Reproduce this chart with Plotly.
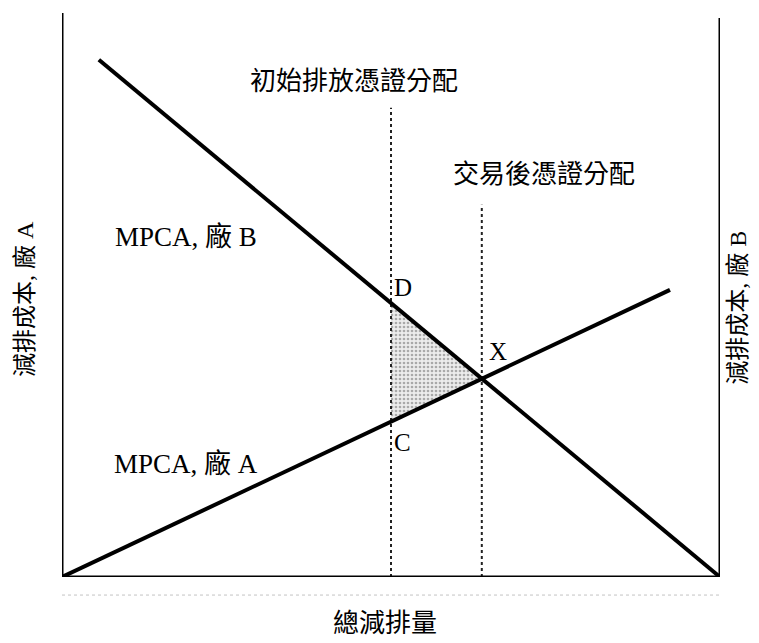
import plotly.graph_objects as go

# MPCA curves (axis units 0-10)
mpca_b_x = [0.56, 10.0]
mpca_b_y = [9.17, 0.0]
mpca_a_x = [0.0, 9.24]
mpca_a_y = [0.0, 5.09]

# permit allocations (vertical dotted lines)
alloc_x = [5.0, 6.38]
alloc_top = [8.32, 6.6]

# shaded gain triangle D - X - C
tri_x = [5.0, 6.38, 5.0, 5.0]
tri_y = [4.86, 3.52, 2.75, 4.86]

# text labels
labels = ["初始排放憑證分配", "交易後憑證分配", "MPCA, 廠 B", "MPCA, 廠 A", "D", "C", "X"]
label_x = [4.44, 7.33, 1.89, 1.88, 5.18, 5.17, 6.63]
label_y = [8.78, 7.13, 6.03, 2.0, 5.14, 2.38, 3.99]
label_size = [26, 26, 27, 27, 25, 25, 25]

FONT = "Liberation Serif, Noto Sans CJK TC, serif"

fig = go.Figure()

# shaded area
fig.add_trace(go.Scatter(
    x=tri_x, y=tri_y, mode="lines", fill="toself",
    line=dict(width=0),
    fillcolor="rgba(0,0,0,0)",
    fillpattern=dict(shape=".", fgcolor="#666666", bgcolor="#ececec",
                     size=4, solidity=0.35),
    hoverinfo="skip", showlegend=False
))

# dotted allocation lines
for ax, top in zip(alloc_x, alloc_top):
    fig.add_trace(go.Scatter(
        x=[ax, ax], y=[0, top], mode="lines",
        line=dict(color="#222222", width=2, dash="dot"),
        hoverinfo="skip", showlegend=False
    ))

# MPCA lines
fig.add_trace(go.Scatter(
    x=mpca_b_x, y=mpca_b_y, mode="lines",
    line=dict(color="black", width=4), name="MPCA B", showlegend=False
))
fig.add_trace(go.Scatter(
    x=mpca_a_x, y=mpca_a_y, mode="lines",
    line=dict(color="black", width=4), name="MPCA A", showlegend=False
))

# axes frame (left, right, bottom)
fig.add_shape(type="line", x0=0, x1=0, y0=0, y1=10, xref="x", yref="y",
              line=dict(color="black", width=3))
fig.add_shape(type="line", x0=10, x1=10, y0=0, y1=9.91, xref="x", yref="y",
              line=dict(color="black", width=3))
fig.add_shape(type="line", x0=0, x1=10, y0=0, y1=0, xref="x", yref="y",
              line=dict(color="black", width=3))
# faint scan line under the axis
fig.add_shape(type="line", x0=0, x1=1, y0=-0.032, y1=-0.032, xref="paper", yref="paper",
              line=dict(color="#c4c4c4", width=1, dash="dot"))

for t, lx, ly, sz in zip(labels, label_x, label_y, label_size):
    fig.add_annotation(x=lx, y=ly, text=t, showarrow=False,
                       font=dict(family=FONT, size=sz, color="black"))

# axis titles (paper coords so they are not hidden outside the range)
fig.add_annotation(x=-0.056, y=0.493, xref="paper", yref="paper",
                   xanchor="center", yanchor="middle",
                   text="減排成本, 廠 A", textangle=-90, showarrow=False,
                   font=dict(family=FONT, size=24, color="black"))
fig.add_annotation(x=1.027, y=0.477, xref="paper", yref="paper",
                   xanchor="center", yanchor="middle",
                   text="減排成本, 廠 B", textangle=-90, showarrow=False,
                   font=dict(family=FONT, size=24, color="black"))
fig.add_annotation(x=0.491, y=-0.082, xref="paper", yref="paper",
                   xanchor="center", yanchor="middle",
                   text="總減排量", showarrow=False,
                   font=dict(family=FONT, size=26, color="black"))

fig.update_xaxes(range=[0, 10], visible=False, showgrid=False, zeroline=False)
fig.update_yaxes(range=[0, 10], visible=False, showgrid=False, zeroline=False)

# page body adds 8px, margins compensate so the frame sits where the original does
fig.update_layout(
    width=759, height=643,
    margin=dict(l=54, r=47, t=5, b=74),
    plot_bgcolor="white", paper_bgcolor="white",
    showlegend=False
)

fig.write_html("out.html")
